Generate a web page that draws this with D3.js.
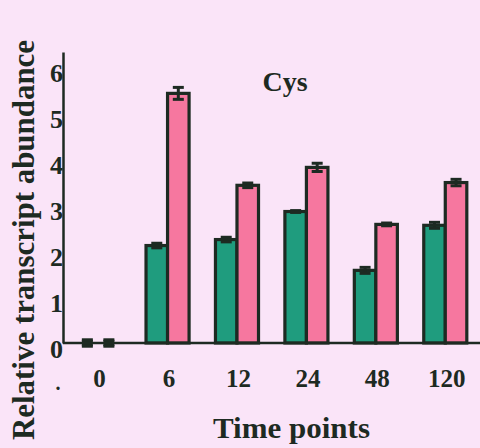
<!DOCTYPE html>
<html>
<head>
<meta charset="utf-8">
<script src="https://cdn.jsdelivr.net/npm/d3@7"></script>
<style>
  html, body { margin: 0; padding: 0; background: #fae4f8; }
  svg { display: block; }
  text { font-family: "Liberation Serif", "Times New Roman", serif; font-weight: bold; fill: #1d2a22; }
</style>
</head>
<body>
<script>
const categories = ["0", "6", "12", "24", "48", "120"];
const seriesNames = ["A", "B"];
const seriesA = [0, 2.12, 2.25, 2.86, 1.58, 2.56];
const seriesB = [0, 5.43, 3.43, 3.82, 2.58, 3.49];
const errA = [0.07, 0.05, 0.05, 0.02, 0.065, 0.065];
const errB = [0.07, 0.13, 0.05, 0.09, 0.03, 0.07];
const yTicks = [0, 1, 2, 3, 4, 5, 6];
const title = "Cys";
const xTitle = "Time points";
const yTitle = "Relative transcript abundance";

const W = 480, H = 448;
const colors = { A: "#1f9c7e", B: "#f6779f" };
const ink = "#1d2a22";

const svg = d3.select("body").append("svg").attr("width", W).attr("height", H);
svg.append("rect").attr("width", W).attr("height", H).attr("fill", "#fae4f8");

const x0 = d3.scaleBand().domain(categories).range([63.4, 480]).paddingInner(0.38).paddingOuter(0.19);
const x1 = d3.scaleBand().domain(seriesNames).range([0, x0.bandwidth()]);
const y = d3.scaleLinear().domain([0, 6.33]).range([343, 52]);

const rows = categories.map((c, i) => ({
  cat: c,
  vals: [
    { key: "A", v: seriesA[i], e: errA[i] },
    { key: "B", v: seriesB[i], e: errB[i] }
  ]
}));

const g = svg.append("g");
const groups = g.selectAll("g.grp").data(rows).join("g")
  .attr("class", "grp")
  .attr("transform", d => `translate(${x0(d.cat)},0)`);

groups.selectAll("rect").data(d => d.vals.filter(v => v.v > 0)).join("rect")
  .attr("x", d => x1(d.key))
  .attr("width", x1.bandwidth())
  .attr("y", d => y(d.v))
  .attr("height", d => y(0) - y(d.v))
  .attr("fill", d => colors[d.key])
  .attr("stroke", ink)
  .attr("stroke-width", 3.2);

// error bars
const capW = 11;
const eb = groups.selectAll("g.eb").data(d => d.vals).join("g").attr("class", "eb")
  .attr("transform", d => `translate(${x1(d.key) + x1.bandwidth() / 2},0)`);
eb.append("line")
  .attr("y1", d => y(d.v - d.e)).attr("y2", d => y(d.v + d.e))
  .attr("stroke", ink).attr("stroke-width", 3);
eb.append("line")
  .attr("x1", -capW / 2).attr("x2", capW / 2)
  .attr("y1", d => y(d.v + d.e)).attr("y2", d => y(d.v + d.e))
  .attr("stroke", ink).attr("stroke-width", 3);
eb.append("line")
  .attr("x1", -capW / 2).attr("x2", capW / 2)
  .attr("y1", d => y(d.v - d.e)).attr("y2", d => y(d.v - d.e))
  .attr("stroke", ink).attr("stroke-width", 3);
eb.filter(d => d.v === 0).append("rect")
  .attr("x", -capW / 2).attr("width", capW)
  .attr("y", d => y(d.e)).attr("height", d => y(-d.e) - y(d.e))
  .attr("fill", ink);

// axes
const yAxis = d3.axisLeft(y).tickValues(yTicks).tickSize(0).tickFormat(d3.format("d"));
const ya = svg.append("g").attr("transform", "translate(63,0)").call(yAxis);
ya.select(".domain").attr("stroke", ink).attr("stroke-width", 2.5);
ya.selectAll(".tick text")
  .attr("x", 0).attr("dy", "0.9em").attr("dx", 0)
  .attr("y", -9)
  .style("font-size", "26px").attr("fill", ink);

const xAxis = d3.axisBottom(x0).tickSize(0);
const xa = svg.append("g").attr("transform", "translate(0,343)").call(xAxis);
xa.select(".domain").attr("stroke", ink).attr("stroke-width", 2.5).attr("d", "M63,0H480");
xa.selectAll(".tick text")
  .attr("y", 44).attr("dy", 0).attr("dx", 1.5)
  .style("font-size", "25px").attr("fill", ink);

// titles
svg.append("text").attr("x", 285).attr("y", 91).attr("text-anchor", "middle")
  .style("font-size", "28px").text(title);
svg.append("text").attr("x", 291.5).attr("y", 438).attr("text-anchor", "middle")
  .style("font-size", "29px").attr("textLength", 157).attr("lengthAdjust", "spacingAndGlyphs")
  .text(xTitle);
svg.append("text").attr("transform", "translate(34,240) rotate(-90)").attr("text-anchor", "middle")
  .style("font-size", "31px").attr("textLength", 400).attr("lengthAdjust", "spacingAndGlyphs")
  .text(yTitle);
svg.append("text").attr("x", 58).attr("y", 390).attr("text-anchor", "middle")
  .style("font-size", "20px").text(".");
</script>
</body>
</html>
